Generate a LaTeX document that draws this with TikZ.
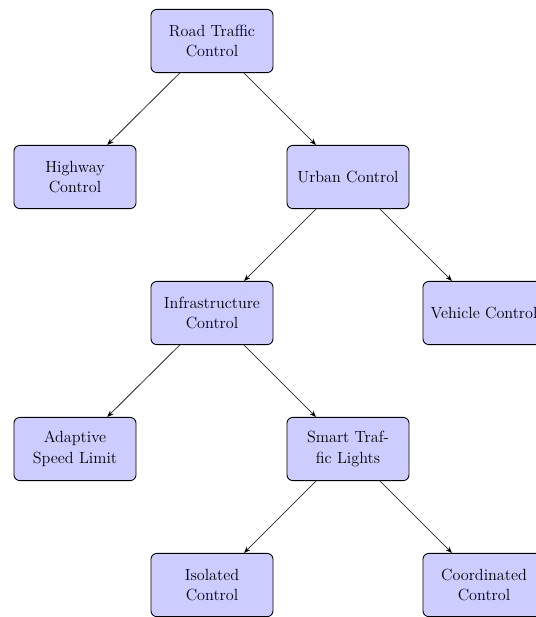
\documentclass[tikz,border=0pt]{standalone}
\usetikzlibrary{arrows.meta}
\begin{document}
\begin{tikzpicture}[x=0.68pt,y=-0.68pt,
  box/.style={draw=black, line width=0.6pt, fill=blue!20, rounded corners=4pt,
    minimum width=83pt, minimum height=43pt, align=center, inner sep=2pt,
    font=\fontsize{11}{14}\selectfont},
  link/.style={-{Stealth[length=4.5pt,width=3.5pt]}, line width=0.45pt}]
\useasboundingbox (0,0) rectangle (535,617);
\node[box] (root)  at (212,41)  {Road Traffic\\Control};
\node[box] (hwy)   at (75,177)  {Highway\\Control};
\node[box] (urban) at (348,177) {Urban Control};
\node[box] (infra) at (212,313) {Infrastructure\\Control};
\node[box] (veh)   at (484,313) {Vehicle Control};
\node[box] (asl)   at (75,449)  {Adaptive\\Speed Limit};
\node[box] (stl)   at (348,449) {Smart Traf-\\fic Lights};
\node[box] (iso)   at (212,585) {Isolated\\Control};
\node[box] (coord) at (484,585) {Coordinated\\Control};
\draw[link] (root) -- (hwy);
\draw[link] (root) -- (urban);
\draw[link] (urban) -- (infra);
\draw[link] (urban) -- (veh);
\draw[link] (infra) -- (asl);
\draw[link] (infra) -- (stl);
\draw[link] (stl) -- (iso);
\draw[link] (stl) -- (coord);
\end{tikzpicture}
\end{document}
